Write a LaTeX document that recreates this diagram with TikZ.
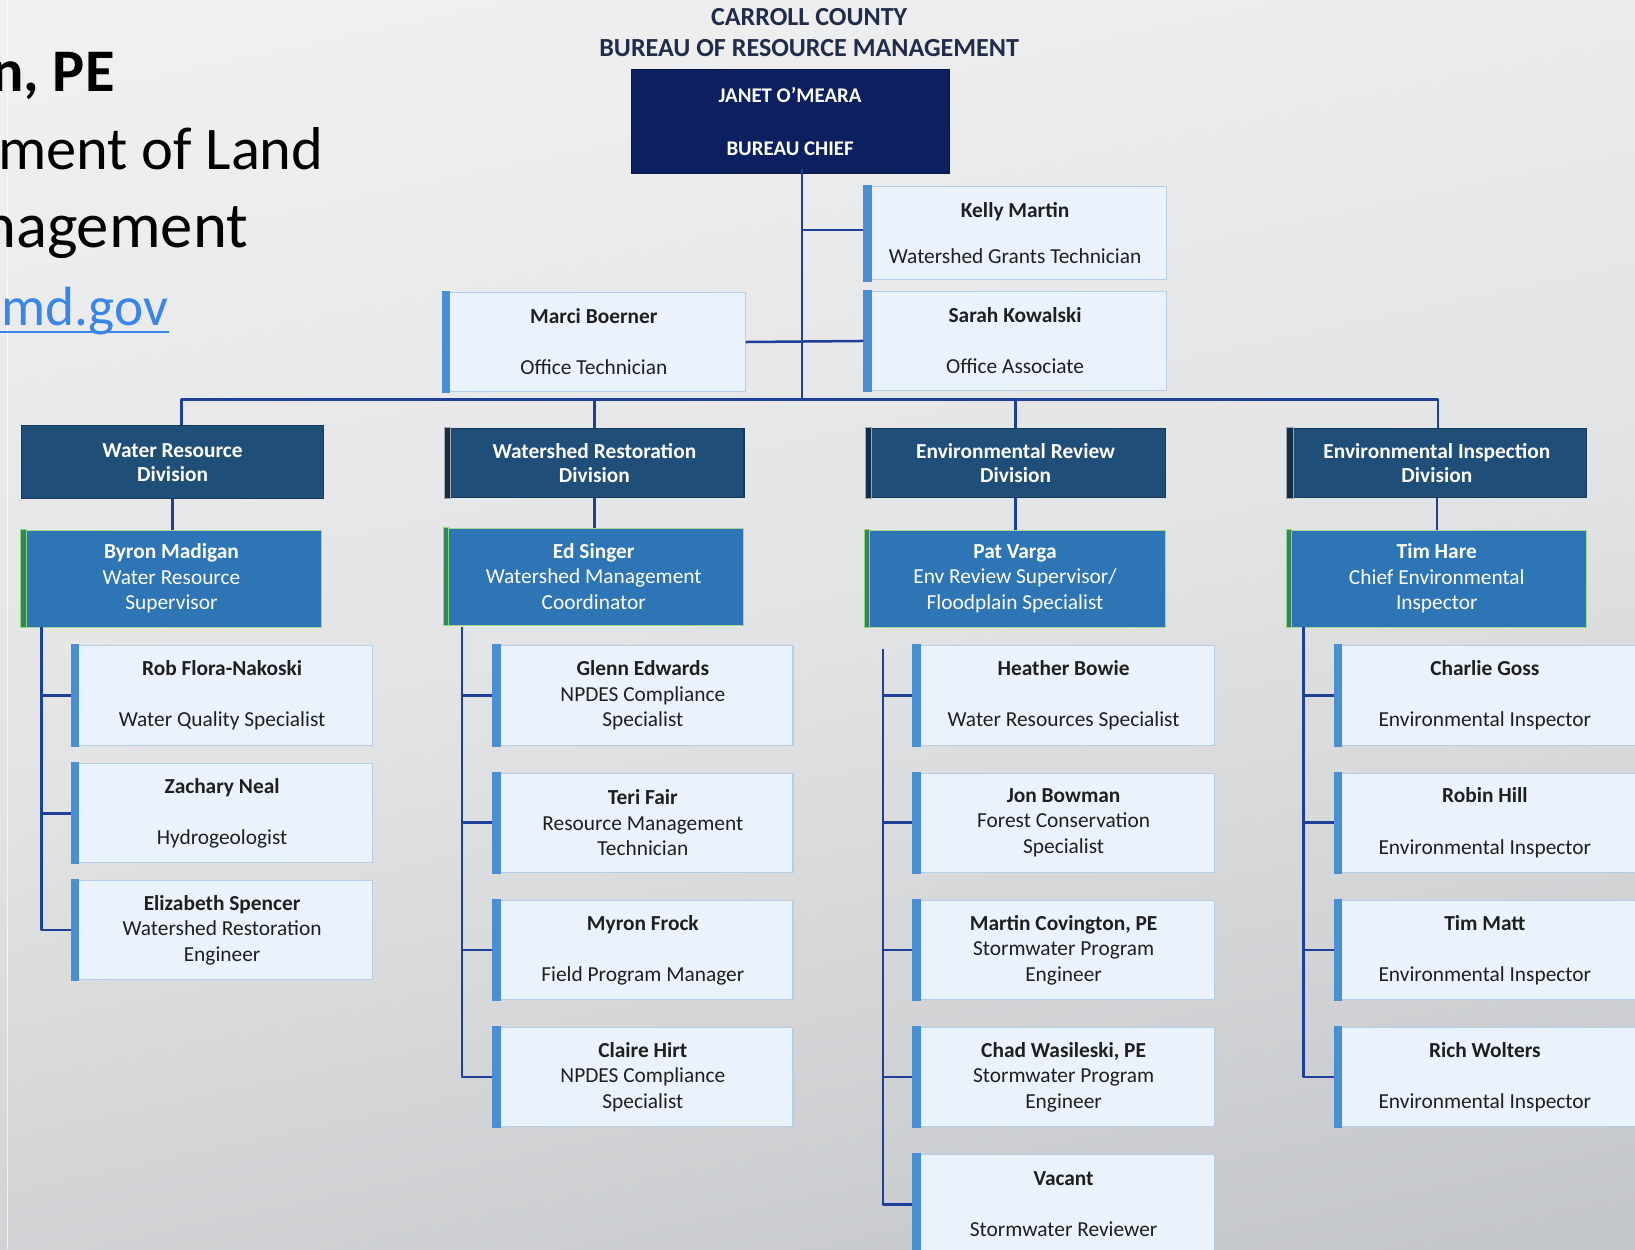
\documentclass[tikz,border=0pt]{standalone}
\usepackage{fontspec}
\setmainfont{Carlito}
\definecolor{chiefblue}{HTML}{0C1F5E}
\definecolor{divblue}{HTML}{1F4E79}
\definecolor{divedge}{HTML}{17395A}
\definecolor{supblue}{HTML}{2E75B6}
\definecolor{supedge}{HTML}{A8D494}
\definecolor{supbar}{HTML}{3D7F63}
\definecolor{stafffill}{HTML}{EAF2FB}
\definecolor{staffedge}{HTML}{B5CDE6}
\definecolor{staffbar}{HTML}{4A8FD4}
\definecolor{connblue}{HTML}{1E3F9A}
\definecolor{titlecol}{HTML}{1F2D4A}
\definecolor{linkblue}{HTML}{3A86E8}
\definecolor{bgtop}{HTML}{F1F1F2}
\definecolor{bgmid}{HTML}{E2E3E4}
\definecolor{bgbot}{HTML}{C3C6C9}
\begin{document}
\begin{tikzpicture}[x=1pt,y=-1pt,
  staffbox/.style={draw=staffedge, fill=stafffill, line width=1, minimum width=289,
    minimum height=95, align=center, inner sep=0, anchor=north west,
    text=black!88, font=\fontsize{20.5}{24.5}\selectfont},
  divbox/.style={draw=divedge, fill=divblue, line width=1, minimum width=287,
    minimum height=67, align=center, inner sep=0, anchor=north west,
    text=white, font=\bfseries\fontsize{20.5}{23}\selectfont},
  supbox/.style={draw=supedge, fill=supblue, line width=0.8, minimum width=288,
    minimum height=93, align=center, inner sep=0, anchor=north west,
    text=white, font=\fontsize{20.5}{24.5}\selectfont},
  conn/.style={draw=connblue, line width=2.4, line join=round},
  ttl/.style={text=titlecol, font=\bfseries\fontsize{25}{28}\selectfont, inner sep=0},
  bigtxt/.style={text=black, font=\fontsize{58}{60}\selectfont, inner sep=0}
]
\useasboundingbox (0,0) rectangle (1568,1198);
\clip (0,0) rectangle (1568,1198);
\shade[top color=bgtop, bottom color=bgbot, middle color=bgmid, shading angle=12] (-100,-100) rectangle (1700,1300);
\draw[white, opacity=0.7, line width=1] (7,0) -- (7,1198);

% left slide text
\node[bigtxt, font=\bfseries\fontsize{58}{60}\selectfont, anchor=base east] (pe) at (110,88) {n, PE};
\node[bigtxt, anchor=base west] (land) at (-2,163) {ment of Land};
\node[bigtxt, font=\fontsize{62}{64}\selectfont, anchor=base east] (mgmt) at (238,237) {nagement};
\node[bigtxt, font=\fontsize{53}{56}\selectfont, text=linkblue, anchor=base west] (mail) at (1,312) {md.gov};
\draw[linkblue, line width=2] (0,318) -- (mail.base east |- 0,318);

% title
\node[ttl] (t1) at (776,16) {CARROLL COUNTY};
\node[ttl] (t2) at (776,46) {BUREAU OF RESOURCE MANAGEMENT};

% chief
\node[fill=chiefblue, draw=chiefblue!70!black, minimum width=305, minimum height=100,
  inner sep=0, align=center, text=white, font=\bfseries\fontsize{20}{24}\selectfont,
  anchor=north west] (chief) at (605,66) {JANET O'MEARA\\[27pt]BUREAU CHIEF};

% staff of chief
\node[staffbox, minimum width=290, minimum height=90] (kelly) at (828,178)
  {\textbf{Kelly Martin}\\[19.5pt]Watershed Grants Technician};
\node[staffbox, minimum width=290] (sarah) at (828,279)
  {\textbf{Sarah Kowalski}\\[24.5pt]Office Associate};
\node[staffbox, minimum width=290] (marci) at (424,280)
  {\textbf{Marci Boerner}\\[24.5pt]Office Technician};

% divisions
\node[divbox, minimum width=290, minimum height=70] (wrd) at (20,408) {Water Resource\\Division};
\node[divbox] (wsd) at (426,410) {Watershed Restoration\\Division};
\node[divbox] (erd) at (830,410) {Environmental Review\\Division};
\node[divbox] (eid) at (1234,410) {Environmental Inspection\\Division};

% supervisors
\node[supbox] (byron) at (20,508) {\textbf{Byron Madigan}\\Water Resource\\Supervisor};
\node[supbox] (ed) at (425,506) {\textbf{Ed Singer}\\Watershed Management\\Coordinator};
\node[supbox] (pat) at (829,508) {\textbf{Pat Varga}\\Env Review Supervisor/\\Floodplain Specialist};
\node[supbox, minimum width=287] (timh) at (1234,508) {\textbf{Tim Hare}\\Chief Environmental\\Inspector};

% column 1
\node[staffbox] (rob) at (68,619) {\textbf{Rob Flora-Nakoski}\\[24.5pt]Water Quality Specialist};
\node[staffbox] (zach) at (68,732) {\textbf{Zachary Neal}\\[24.5pt]Hydrogeologist};
\node[staffbox] (eliz) at (68,844) {\textbf{Elizabeth Spencer}\\Watershed Restoration\\Engineer};
% column 2
\node[staffbox, minimum width=288] (glenn) at (472,619) {\textbf{Glenn Edwards}\\NPDES Compliance\\Specialist};
\node[staffbox, minimum width=288] (teri) at (472,741) {\textbf{Teri Fair}\\Resource Management\\Technician};
\node[staffbox, minimum width=288] (myron) at (472,863) {\textbf{Myron Frock}\\[24.5pt]Field Program Manager};
\node[staffbox, minimum width=288] (claire) at (472,985) {\textbf{Claire Hirt}\\NPDES Compliance\\Specialist};
% column 3
\node[staffbox] (heather) at (875,619) {\textbf{Heather Bowie}\\[24.5pt]Water Resources Specialist};
\node[staffbox] (jon) at (875,741) {\textbf{Jon Bowman}\\Forest Conservation\\Specialist};
\node[staffbox] (martin) at (875,863) {\textbf{Martin Covington, PE}\\Stormwater Program\\Engineer};
\node[staffbox] (chad) at (875,985) {\textbf{Chad Wasileski, PE}\\Stormwater Program\\Engineer};
\node[staffbox] (vacant) at (875,1107) {\textbf{Vacant}\\[24.5pt]Stormwater Reviewer};
% column 4
\node[staffbox] (charlie) at (1279,619) {\textbf{Charlie Goss}\\[24.5pt]Environmental Inspector};
\node[staffbox] (robin) at (1279,741) {\textbf{Robin Hill}\\[24.5pt]Environmental Inspector};
\node[staffbox] (timm) at (1279,863) {\textbf{Tim Matt}\\[24.5pt]Environmental Inspector};
\node[staffbox] (rich) at (1279,985) {\textbf{Rich Wolters}\\[24.5pt]Environmental Inspector};

% left accent bars of staff boxes
\foreach \n in {kelly,sarah,marci,rob,zach,eliz,glenn,teri,myron,claire,heather,jon,martin,chad,vacant,charlie,robin,timm,rich}{
  \fill[staffbar] ([yshift=1]\n.north west) rectangle ([xshift=8,yshift=-1]\n.south west);
}
% left bars of division boxes
\foreach \n in {wsd,erd,eid}{
  \fill[divedge!80!black, draw=gray!70, line width=0.8] (\n.north west) rectangle ([xshift=6]\n.south west);
}
% left bars of supervisor boxes
\foreach \n in {byron,ed,pat,timh}{
  \fill[supbar, draw=supedge!80!green, line width=1] (\n.north west) rectangle ([xshift=5]\n.south west);
}

% connectors
\coordinate (bc) at (769,383);
\coordinate (b1) at (174,383);
\coordinate (b4) at (1379,383);
\draw[conn] (chief.south -| bc) ++(0,-4) -- (bc);
\draw[conn] (kelly.west -| bc) ++(0,-3) -- ([yshift=3]kelly.west);
\draw[conn] (marci.east) -- (sarah.west);
\draw[conn] (b1 |- wrd.north) -- (b1) -- (b4) -- (b4 |- eid.north);
\draw[conn] (wsd.north) -- (wsd.north |- bc);
\draw[conn] (erd.north) -- (erd.north |- bc);
\draw[conn] (wrd.south) -- (wrd.south |- byron.north);
\draw[conn] (wsd.south) -- (wsd.south |- ed.north);
\draw[conn] (erd.south) -- (erd.south |- pat.north);
\draw[conn] (eid.south) -- (eid.south |- timh.north);

\coordinate (c1) at (40,601);
\coordinate (c2) at (443,601);
\coordinate (c3) at (847,622);
\coordinate (c4) at (1250,601);
\draw[conn] (c1) |- (eliz.west);
\foreach \n in {rob,zach}{ \draw[conn] (\n.west -| c1) -- (\n.west); }
\draw[conn] (c2) |- (claire.west);
\foreach \n in {glenn,teri,myron}{ \draw[conn] (\n.west -| c2) -- (\n.west); }
\draw[conn] (c3) |- (vacant.west);
\foreach \n in {heather,jon,martin,chad}{ \draw[conn] (\n.west -| c3) -- (\n.west); }
\draw[conn] (c4) |- (rich.west);
\foreach \n in {charlie,robin,timm}{ \draw[conn] (\n.west -| c4) -- (\n.west); }
\end{tikzpicture}
\end{document}
